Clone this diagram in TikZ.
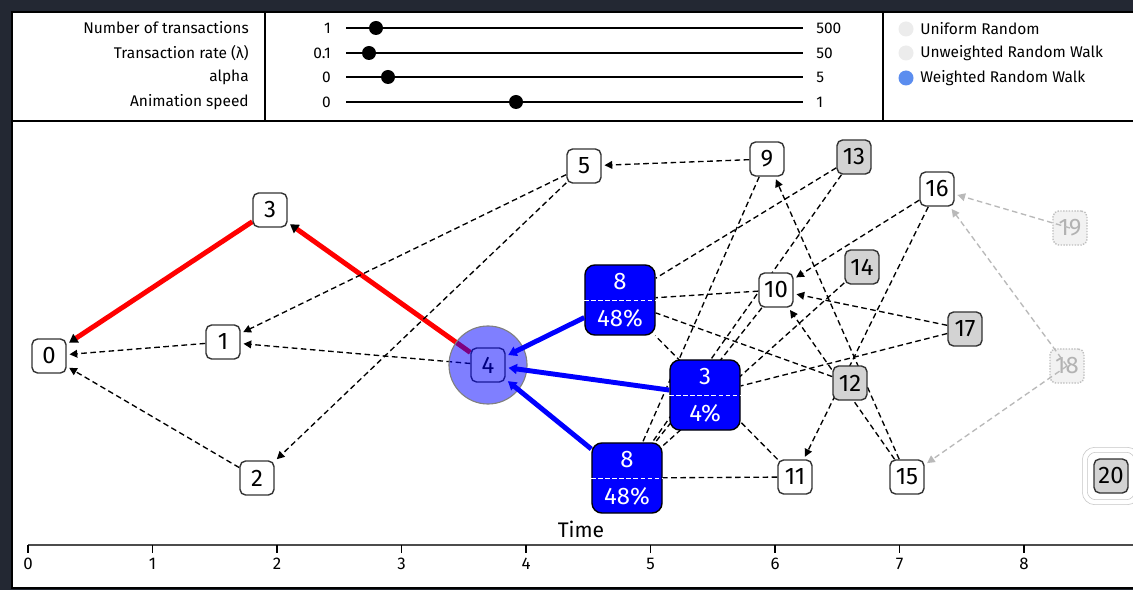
\documentclass[tikz,border=0pt]{standalone}
\usepackage{fontspec}
\setmainfont{Fira Sans}
\usetikzlibrary{arrows.meta,calc}

\definecolor{pagedark}{RGB}{35,40,51}
\definecolor{nodegray}{RGB}{211,211,211}
\definecolor{walkblue}{RGB}{91,141,239}
\definecolor{offgray}{RGB}{236,236,236}

\pgfdeclarelayer{frame}
\pgfdeclarelayer{edges}
\pgfsetlayers{frame,edges,main}

\tikzset{
  txnode/.style={rectangle, rounded corners=4pt, draw=black!80, line width=1pt, fill=white,
    minimum size=0.85cm, inner sep=0pt, font=\fontsize{17}{17}\selectfont},
  txgray/.style={txnode, fill=nodegray},
  txghost/.style={txnode, draw=gray!50, densely dotted, fill=gray!10, text=gray!60},
  txbig/.style={rectangle, rounded corners=7pt, draw=black, line width=1pt, fill=blue,
    minimum size=1.75cm, inner sep=0pt},
  bigtext/.style={text=white, font=\fontsize{17}{17}\selectfont, inner sep=0pt},
  txedge/.style={dash pattern=on 4pt off 2.5pt, line width=0.95pt,
    -{Triangle[length=5.5pt,width=5.5pt]}, shorten >=2pt},
  txlink/.style={dash pattern=on 4pt off 2.5pt, line width=0.95pt},
  txfade/.style={txedge, gray!55},
  pathred/.style={red, line width=3.5pt, -{Triangle[color=black,length=6pt,width=7pt]}, shorten >=2pt},
  pathblue/.style={blue, line width=3.5pt, -{Triangle[length=6pt,width=7pt]}, shorten >=2pt},
  paneltext/.style={font=\fontsize{11}{11}\selectfont, inner sep=0pt},
}

\begin{document}
\begin{tikzpicture}[x=0.025cm, y=-0.025cm]
  \useasboundingbox (0,0) rectangle (1133,590);

  \begin{pgfonlayer}{frame}
    \fill[pagedark] (0,0) rectangle (1133,590);
    \fill[white] (12,12) rectangle (1133,588);
    \draw[line width=1.5pt] (1133,12) -- (12,12) -- (12,588) -- (1133,588);
    \draw[line width=1.2pt] (12,121) -- (1133,121);
    \draw[line width=1.2pt] (265,12) -- (265,121) (883,12) -- (883,121);
  \end{pgfonlayer}

  % controls
  \node[paneltext, anchor=east] (lbnum)   at (249,28)  {Number of transactions};
  \node[paneltext, anchor=east] (lbrate)  at (249,53)  {Transaction rate (λ)};
  \node[paneltext, anchor=east] (lbalpha) at (249,77)  {alpha};
  \node[paneltext, anchor=east] (lbspeed) at (249,102) {Animation speed};
  \foreach \y/\k/\lo/\hi in {28/376/1/500, 53/369/0.1/50, 77/388/0/5, 102/516/0/1}{
    \node[paneltext, anchor=east] (lo\y) at (331,\y) {\lo};
    \draw[line width=1.3pt] (346,\y) -- (803,\y);
    \fill (\k,\y) circle (7);
    \node[paneltext, anchor=west] (hi\y) at (816,\y) {\hi};
  }

  % legend
  \fill[offgray] (906,29) circle (7.5);
  \fill[offgray] (906,53) circle (7.5);
  \fill[walkblue] (906,78) circle (7.5);
  \node[paneltext, anchor=west] (lguni) at (920,29) {Uniform Random};
  \node[paneltext, anchor=west] (lgunw) at (920,53) {Unweighted Random Walk};
  \node[paneltext, anchor=west] (lgwei) at (920,78) {Weighted Random Walk};

  % transactions
  \node[txnode] (n0)  at (49,356)   {0};
  \node[txnode] (n1)  at (223,342)  {1};
  \node[txnode] (n2)  at (257,478)  {2};
  \node[txnode] (n3)  at (270,210)  {3};
  \node[txnode] (n4)  at (488,365)  {4};
  \node[txnode] (n5)  at (584,166)  {5};
  \node[txnode] (n9)  at (767,159)  {9};
  \node[txgray] (n13) at (854,157)  {13};
  \node[txnode] (n16) at (937,189)  {16};
  \node[txgray] (n14) at (862,267)  {14};
  \node[txnode] (n10) at (776,290)  {10};
  \node[txgray] (n17) at (965,329)  {17};
  \node[txgray] (n12) at (850,383)  {12};
  \node[txnode] (n11) at (795,477)  {11};
  \node[txnode] (n15) at (907,477)  {15};
  \node[txgray] (n20) at (1111,476) {20};
  \draw[gray!45, rounded corners=6pt] ($(n20.north west)+(-6,-6)$) rectangle ($(n20.south east)+(6,6)$);
  \draw[gray!45, rounded corners=9pt] ($(n20.north west)+(-11,-11)$) rectangle ($(n20.south east)+(11,11)$);
  \node[txghost] (n19) at (1070,228) {19};
  \node[txghost] (n18) at (1067,366) {18};

  \node[txbig] (b8a) at (620,300) {};
  \draw[white, dash pattern=on 3pt off 2pt, line width=0.6pt] (b8a.west) -- (b8a.east);
  \node[bigtext] (b8atop) at ($(b8a.center)+(0,-18)$) {8};
  \node[bigtext] (b8abot) at ($(b8a.center)+(0,18)$)  {48\%};
  \node[txbig] (b3) at (705,395) {};
  \draw[white, dash pattern=on 3pt off 2pt, line width=0.6pt] (b3.west) -- (b3.east);
  \node[bigtext] (b3top) at ($(b3.center)+(0,-18)$) {3};
  \node[bigtext] (b3bot) at ($(b3.center)+(0,18)$)  {4\%};
  \node[txbig] (b8b) at (627,478) {};
  \draw[white, dash pattern=on 3pt off 2pt, line width=0.6pt] (b8b.west) -- (b8b.east);
  \node[bigtext] (b8btop) at ($(b8b.center)+(0,-18)$) {8};
  \node[bigtext] (b8bbot) at ($(b8b.center)+(0,18)$)  {48\%};

  \begin{pgfonlayer}{edges}
    \draw[pathred] (n3) -- (n0);
    \draw[pathred] (n4) -- (n3);
    \draw[txedge] (n1) -- (n0);
    \draw[txedge] (n2) -- (n0);
    \draw[txedge] (n4) -- (n1);
    \draw[txedge] (n5) -- (n1);
    \draw[txedge] (n5) -- (n2);
    \draw[txedge] (n9) -- (n5);
    \draw[txedge] (n15) -- (n9);
    \draw[txedge] (n16) -- (n10);
    \draw[txedge] (n17) -- (n10);
    \draw[txedge] (n15) -- (n10);
    \draw[txedge] (n16) -- (n11);
    \draw[txlink] (n13) -- (b8a);
    \draw[txlink] (n10) -- (b8a);
    \draw[txlink] (n12) -- (b8a);
    \draw[txlink] (n11) -- (b8a);
    \draw[txlink] (n9) -- (b8b);
    \draw[txlink] (n13) -- (b8b);
    \draw[txlink] (n10) -- (b8b);
    \draw[txlink] (n14) -- (b8b);
    \draw[txlink] (n11) -- (b8b);
    \draw[txlink] (n17) -- (b3);
  \end{pgfonlayer}

  \draw[txfade] (n19.center) -- (n16);
  \draw[txfade] (n18.center) -- (n16);
  \draw[txfade] (n18.center) -- (n15);

  % selected walk
  \node[circle, minimum size=1.95cm, draw=gray, line width=0.8pt, fill=blue, fill opacity=0.5] (c4) at (n4) {};
  \draw[pathblue] (b8a) -- (n4);
  \draw[pathblue] (b3) -- (n4);
  \draw[pathblue] (b8b) -- (n4);

  % time axis
  \node[font=\fontsize{15}{15}\selectfont] (tlabel) at (581,529) {Time};
  \draw[line width=1.4pt, black!70] (28,545) -- (1133,545);
  \foreach \t in {0,...,8}{
    \draw[line width=1pt] ({28+124.5*\t},545) -- ({28+124.5*\t},553);
    \node[font=\fontsize{12}{12}\selectfont] (tick\t) at ({28+124.5*\t},564) {\t};
  }
\end{tikzpicture}
\end{document}
